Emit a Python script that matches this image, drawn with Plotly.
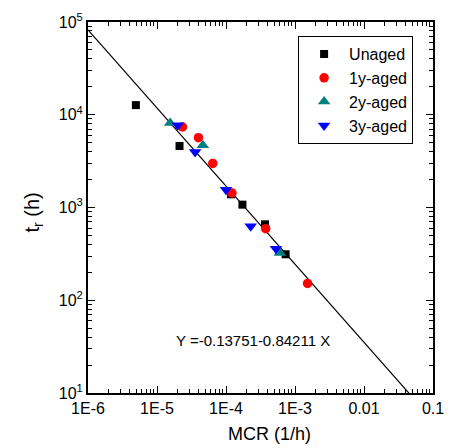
import numpy as np
import plotly.graph_objects as go

# Data
unaged_x = [4.94e-6, 2.12e-5, 1.18e-4, 1.73e-4, 3.67e-4, 7.31e-4]
unaged_y = [12700, 4600, 1387, 1073, 659, 313]

aged1_x = [2.34e-5, 3.99e-5, 6.43e-5, 1.22e-4, 3.76e-4, 1.52e-3]
aged1_y = [7380, 5660, 2990, 1433, 591, 152]

aged2_x = [1.55e-5, 4.62e-5, 6.05e-4]
aged2_y = [8150, 4680, 323]

aged3_x = [2.0e-5, 3.57e-5, 1.0e-4, 2.28e-4, 5.3e-4]
aged3_y = [7690, 3960, 1556, 627, 360]

fit_a = -0.13751
fit_b = -0.84211
fit_logx = [-6.0, -1.0]

x_tickvals = [1e-6, 1e-5, 1e-4, 1e-3, 1e-2, 1e-1]
x_ticktext = ["1E-6", "1E-5", "1E-4", "1E-3", "0.01", "0.1"]
y_tickvals = [10, 100, 1000, 10000, 100000]
y_ticktext = ["10<sup>1</sup>", "10<sup>2</sup>", "10<sup>3</sup>", "10<sup>4</sup>", "10<sup>5</sup>"]

FONT = "Liberation Sans, Arial, sans-serif"

x_minor = [m * d for d in x_tickvals[:-1] for m in range(2, 10)]
y_minor = [m * d for d in y_tickvals[:-1] for m in range(2, 10)]

fig = go.Figure()

fit_x = [10 ** v for v in fit_logx]
fit_y = [10 ** (fit_a + fit_b * v) for v in fit_logx]
fig.add_trace(go.Scatter(x=fit_x, y=fit_y, mode="lines",
                         line=dict(color="black", width=1.2), showlegend=False,
                         hoverinfo="skip"))

fig.add_trace(go.Scatter(x=unaged_x, y=unaged_y, mode="markers", name="Unaged",
                         marker=dict(symbol="square", size=8, color="black")))
fig.add_trace(go.Scatter(x=aged1_x, y=aged1_y, mode="markers", name="1y-aged",
                         marker=dict(symbol="circle", size=9.5, color="#ff0000")))
fig.add_trace(go.Scatter(x=aged2_x, y=aged2_y, mode="markers", name="2y-aged",
                         marker=dict(symbol="triangle-up", size=11, color="#008080")))
fig.add_trace(go.Scatter(x=aged3_x, y=aged3_y, mode="markers", name="3y-aged",
                         marker=dict(symbol="triangle-down", size=11, color="#0000ff")))

axis_common = dict(
    showline=True, linecolor="black", linewidth=2, mirror="ticks",
    ticks="inside", ticklen=7, tickwidth=1.2, tickcolor="black",
    showgrid=False, zeroline=False,
    tickfont=dict(family=FONT, size=16, color="black"),
)

fig.update_xaxes(type="log", range=[-6, -1], tickvals=x_tickvals, ticktext=x_ticktext,
                 minor=dict(tickmode="array", tickvals=x_minor, ticks="inside", ticklen=4,
                            tickwidth=1, tickcolor="black", showgrid=False),
                 **axis_common)
fig.update_yaxes(type="log", range=[1, 5], tickvals=y_tickvals, ticktext=y_ticktext,
                 minor=dict(tickmode="array", tickvals=y_minor, ticks="inside", ticklen=4,
                            tickwidth=1, tickcolor="black", showgrid=False),
                 **axis_common)

fig.update_layout(
    width=456, height=448,
    margin=dict(l=88, r=23, t=22, b=55),
    paper_bgcolor="white", plot_bgcolor="white",
    font=dict(family=FONT, color="black"),
    legend=dict(x=0.609, y=0.962, xanchor="left", yanchor="top",
                bordercolor="black", borderwidth=1, bgcolor="white",
                font=dict(family=FONT, size=16, color="black"),
                itemwidth=40, tracegroupgap=0),
    annotations=[
        dict(text="MCR (1/h)", xref="paper", yref="paper", x=0.525, y=-0.111,
             xanchor="center", yanchor="middle", showarrow=False,
             font=dict(family=FONT, size=18, color="black")),
        dict(text="t<sub>r</sub> (h)", xref="paper", yref="paper", x=-0.159, y=0.487,
             xanchor="center", yanchor="middle", showarrow=False, textangle=-90,
             font=dict(family=FONT, size=20, color="black")),
        dict(text="Y =-0.13751-0.84211 X", xref="paper", yref="paper", x=0.478, y=0.142,
             xanchor="center", yanchor="middle", showarrow=False,
             font=dict(family=FONT, size=15, color="black")),
    ],
)

fig.write_html("out.html", config={"displayModeBar": False},
               post_script="document.body.style.margin='0';document.body.style.padding='0';"
                           "document.documentElement.style.overflow='hidden';"
                           "document.body.style.overflow='hidden';")
